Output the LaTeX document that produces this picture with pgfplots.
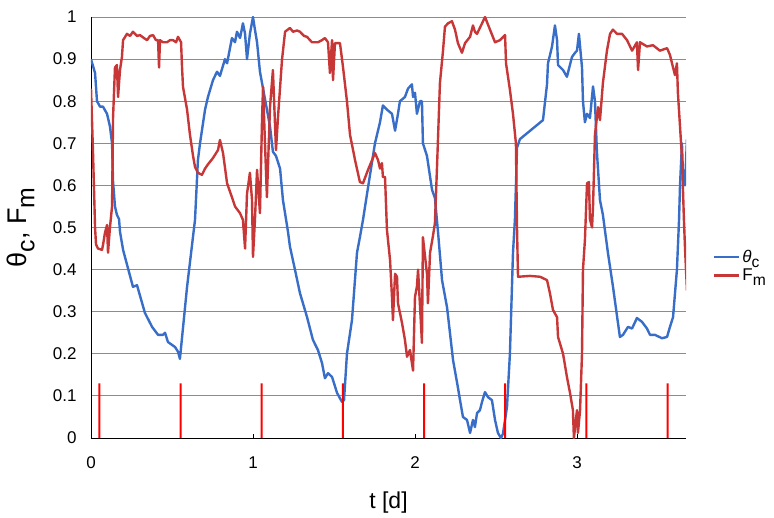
\documentclass[border=0pt]{standalone}
\usepackage{pgfplots}
\pgfplotsset{compat=1.18}
\usepackage{fontspec}
\setmainfont{Liberation Sans}
\definecolor{cblue}{RGB}{56,110,200}
\definecolor{cred}{RGB}{200,55,55}
\definecolor{gridgray}{RGB}{140,140,140}
\newcommand{\lgf}{\fontsize{17}{20}\selectfont}
\newcommand{\sub}[1]{\raisebox{-0.3em}{\scalebox{0.92}{#1}}}
\begin{document}
\begin{tikzpicture}
\useasboundingbox (-91pt,-79pt) rectangle (683pt,438pt);
\begin{axis}[
  at={(0,0)}, anchor=south west,
  scale only axis, width=595pt, height=421pt,
  xmin=0, xmax=3.673, ymin=0, ymax=1,
  axis x line*=bottom, axis y line*=left,
  axis line style={black, line width=0.8pt},
  xtick={0,1,2,3}, ytick={0,0.1,...,1.01},
  yticklabels={0,0.1,0.2,0.3,0.4,0.5,0.6,0.7,0.8,0.9,1},
  xticklabels={0,1,2,3},
  x tick style={black, line width=0.6pt},
  major tick length=4pt,
  xtick pos=bottom, tick align=inside,
  ytick style={draw=none},
  ymajorgrids, grid style={gridgray, line width=0.9pt},
  /pgf/number format/assume math mode=true,
  ticklabel style={font=\fontsize{17}{20}\selectfont},
  xticklabel style={yshift=-15pt},
  yticklabel style={xshift=-11pt},
  xlabel={t [d]},
  ylabel={θ\sub{c}, F\sub{m}},
  every axis x label/.style={at={(axis description cs:0.5,-0.154)}, anchor=center, font=\fontsize{23}{26}\selectfont},
  every axis y label/.style={at={(axis description cs:-0.118,0.5)}, anchor=center, rotate=90, font=\fontsize{27}{32}\selectfont},
  legend style={at={(1.045,0.452)}, anchor=north west, draw=none, fill=none, font=\lgf, nodes={font=\lgf}, row sep=1pt, inner sep=0pt},
  legend cell align=left,
  legend image code/.code={\draw[#1, line width=2.4pt] (0pt,0pt) -- (25pt,0pt);},
]
\addplot[cblue, line width=2.4pt, line join=round] coordinates {
(0.000,0.90) (0.025,0.867) (0.037,0.80) (0.056,0.787) (0.074,0.787) (0.099,0.77)
(0.117,0.74) (0.130,0.70) (0.136,0.61) (0.148,0.55) (0.160,0.53) (0.173,0.52)
(0.179,0.49) (0.198,0.447) (0.259,0.359) (0.284,0.363) (0.333,0.297) (0.377,0.264)
(0.414,0.245) (0.444,0.245) (0.457,0.25) (0.475,0.228) (0.519,0.216) (0.537,0.205)
(0.549,0.188) (0.593,0.359) (0.642,0.518) (0.660,0.66) (0.673,0.70) (0.704,0.78)
(0.722,0.81) (0.753,0.85) (0.778,0.87) (0.796,0.86) (0.827,0.90) (0.840,0.89)
(0.870,0.95) (0.889,0.94) (0.901,0.965) (0.920,0.95) (0.938,0.985) (0.951,0.96)
(0.963,0.90) (0.981,0.96) (1.000,1.0) (1.012,0.97) (1.025,0.94) (1.043,0.87)
(1.062,0.83) (1.086,0.78) (1.105,0.74) (1.123,0.68) (1.142,0.67) (1.167,0.64)
(1.185,0.565) (1.216,0.49) (1.228,0.455) (1.259,0.40) (1.290,0.344) (1.333,0.288)
(1.370,0.233) (1.401,0.209) (1.426,0.178) (1.444,0.142) (1.463,0.154) (1.488,0.145)
(1.519,0.107) (1.549,0.086) (1.562,0.09) (1.580,0.20) (1.611,0.28) (1.642,0.44)
(1.660,0.477) (1.679,0.518) (1.704,0.58) (1.753,0.70) (1.784,0.75) (1.802,0.79)
(1.827,0.78) (1.858,0.77) (1.877,0.73) (1.895,0.77) (1.907,0.80) (1.938,0.81)
(1.957,0.83) (1.981,0.84) (1.988,0.81) (2.000,0.82) (2.012,0.77) (2.031,0.80)
(2.043,0.80) (2.049,0.70) (2.074,0.67) (2.105,0.59) (2.123,0.57) (2.142,0.49)
(2.167,0.375) (2.198,0.31) (2.235,0.185) (2.265,0.12) (2.278,0.09) (2.296,0.05)
(2.321,0.043) (2.340,0.012) (2.358,0.043) (2.370,0.026) (2.383,0.059) (2.401,0.066)
(2.414,0.086) (2.432,0.109) (2.451,0.097) (2.475,0.09) (2.494,0.043) (2.512,0.012)
(2.531,0.0) (2.543,0.01) (2.568,0.074) (2.586,0.20) (2.605,0.44) (2.617,0.52)
(2.630,0.69) (2.648,0.71) (2.790,0.755) (2.815,0.84) (2.821,0.89) (2.846,0.93)
(2.864,0.98) (2.877,0.945) (2.883,0.886) (2.914,0.874) (2.938,0.858) (2.969,0.905)
(2.988,0.915) (3.000,0.92) (3.012,0.96) (3.031,0.88) (3.037,0.80) (3.049,0.75)
(3.062,0.77) (3.080,0.76) (3.099,0.835) (3.111,0.80) (3.123,0.68) (3.142,0.565)
(3.160,0.53) (3.191,0.44) (3.222,0.36) (3.247,0.29) (3.265,0.24) (3.284,0.245)
(3.315,0.264) (3.340,0.26) (3.370,0.285) (3.401,0.276) (3.432,0.26) (3.451,0.245)
(3.481,0.245) (3.525,0.237) (3.556,0.24) (3.574,0.264) (3.593,0.287) (3.617,0.40)
(3.630,0.518) (3.636,0.60) (3.648,0.70) (3.654,0.63) (3.667,0.60) (3.679,0.71)
};
\addlegendentry{\lgf\textit{θ}\sub{c}}
\addplot[cred, line width=2.4pt, line join=round] coordinates {
(0.000,0.83) (0.012,0.684) (0.025,0.50) (0.031,0.46) (0.043,0.45) (0.068,0.447)
(0.074,0.458) (0.086,0.487) (0.099,0.506) (0.105,0.44) (0.117,0.50) (0.130,0.55)
(0.136,0.76) (0.148,0.88) (0.160,0.886) (0.167,0.81) (0.179,0.874) (0.191,0.905)
(0.198,0.945) (0.222,0.96) (0.241,0.955) (0.259,0.965) (0.284,0.955) (0.302,0.957)
(0.327,0.95) (0.346,0.945) (0.364,0.955) (0.383,0.957) (0.401,0.945) (0.414,0.945)
(0.420,0.88) (0.426,0.945) (0.444,0.94) (0.469,0.94) (0.488,0.945) (0.506,0.945)
(0.525,0.94) (0.537,0.953) (0.556,0.94) (0.562,0.88) (0.568,0.834) (0.593,0.78)
(0.611,0.72) (0.630,0.67) (0.642,0.644) (0.660,0.63) (0.685,0.625) (0.704,0.64)
(0.722,0.65) (0.753,0.665) (0.784,0.684) (0.796,0.708) (0.815,0.677) (0.840,0.605)
(0.870,0.572) (0.889,0.55) (0.920,0.534) (0.938,0.518) (0.951,0.45) (0.963,0.58)
(0.981,0.63) (0.994,0.565) (1.000,0.43) (1.012,0.518) (1.025,0.637) (1.043,0.534)
(1.056,0.76) (1.062,0.834) (1.074,0.70) (1.086,0.572) (1.105,0.786) (1.123,0.874)
(1.142,0.684) (1.154,0.76) (1.179,0.898) (1.198,0.965) (1.228,0.974) (1.247,0.965)
(1.272,0.968) (1.290,0.965) (1.315,0.955) (1.333,0.953) (1.364,0.94) (1.401,0.94)
(1.426,0.945) (1.444,0.95) (1.463,0.94) (1.475,0.867) (1.488,0.945) (1.494,0.85)
(1.506,0.938) (1.537,0.938) (1.556,0.88) (1.580,0.80) (1.599,0.72) (1.630,0.66)
(1.660,0.608) (1.679,0.605) (1.710,0.637) (1.735,0.66) (1.753,0.677) (1.772,0.66)
(1.784,0.64) (1.796,0.653) (1.802,0.62) (1.815,0.62) (1.827,0.494) (1.846,0.423)
(1.858,0.335) (1.864,0.28) (1.877,0.39) (1.889,0.383) (1.895,0.32) (1.920,0.273)
(1.938,0.233) (1.951,0.193) (1.969,0.209) (1.988,0.16) (2.000,0.335) (2.012,0.36)
(2.019,0.40) (2.043,0.226) (2.049,0.477) (2.074,0.39) (2.080,0.32) (2.093,0.44)
(2.111,0.48) (2.123,0.51) (2.136,0.644) (2.154,0.843) (2.173,0.92) (2.185,0.977)
(2.204,0.985) (2.228,0.99) (2.247,0.97) (2.265,0.938) (2.290,0.915) (2.309,0.938)
(2.340,0.953) (2.358,0.98) (2.370,0.965) (2.383,0.96) (2.414,0.985) (2.432,1.0)
(2.463,0.97) (2.494,0.94) (2.525,0.945) (2.556,0.957) (2.562,0.89) (2.586,0.827)
(2.605,0.77) (2.623,0.70) (2.630,0.494) (2.636,0.383) (2.710,0.385) (2.772,0.383)
(2.815,0.375) (2.833,0.344) (2.852,0.304) (2.877,0.287) (2.883,0.24) (2.914,0.20)
(2.938,0.145) (2.957,0.107) (2.975,0.066) (2.981,0.0) (3.000,0.066) (3.006,0.012)
(3.019,0.066) (3.031,0.20) (3.037,0.40) (3.049,0.47) (3.062,0.605) (3.074,0.608)
(3.080,0.52) (3.093,0.50) (3.099,0.55) (3.111,0.72) (3.130,0.786) (3.142,0.755)
(3.160,0.843) (3.185,0.92) (3.204,0.96) (3.222,0.97) (3.247,0.96) (3.278,0.96)
(3.309,0.945) (3.340,0.92) (3.370,0.94) (3.377,0.874) (3.389,0.94) (3.432,0.93)
(3.469,0.933) (3.512,0.92) (3.556,0.926) (3.574,0.91) (3.593,0.88) (3.605,0.862)
(3.617,0.89) (3.623,0.82) (3.636,0.74) (3.648,0.667) (3.660,0.52) (3.667,0.45)
(3.679,0.35)
};
\addlegendentry{\lgf F\sub{m}}
\addplot[ybar, bar width=2pt, bar shift=0pt, fill=red, draw=none, forget plot] coordinates {
(0.052,0.13) (0.553,0.13) (1.054,0.13) (1.555,0.13) (2.056,0.13) (2.557,0.13) (3.058,0.13) (3.559,0.13)
};
\end{axis}
\end{tikzpicture}
\end{document}
